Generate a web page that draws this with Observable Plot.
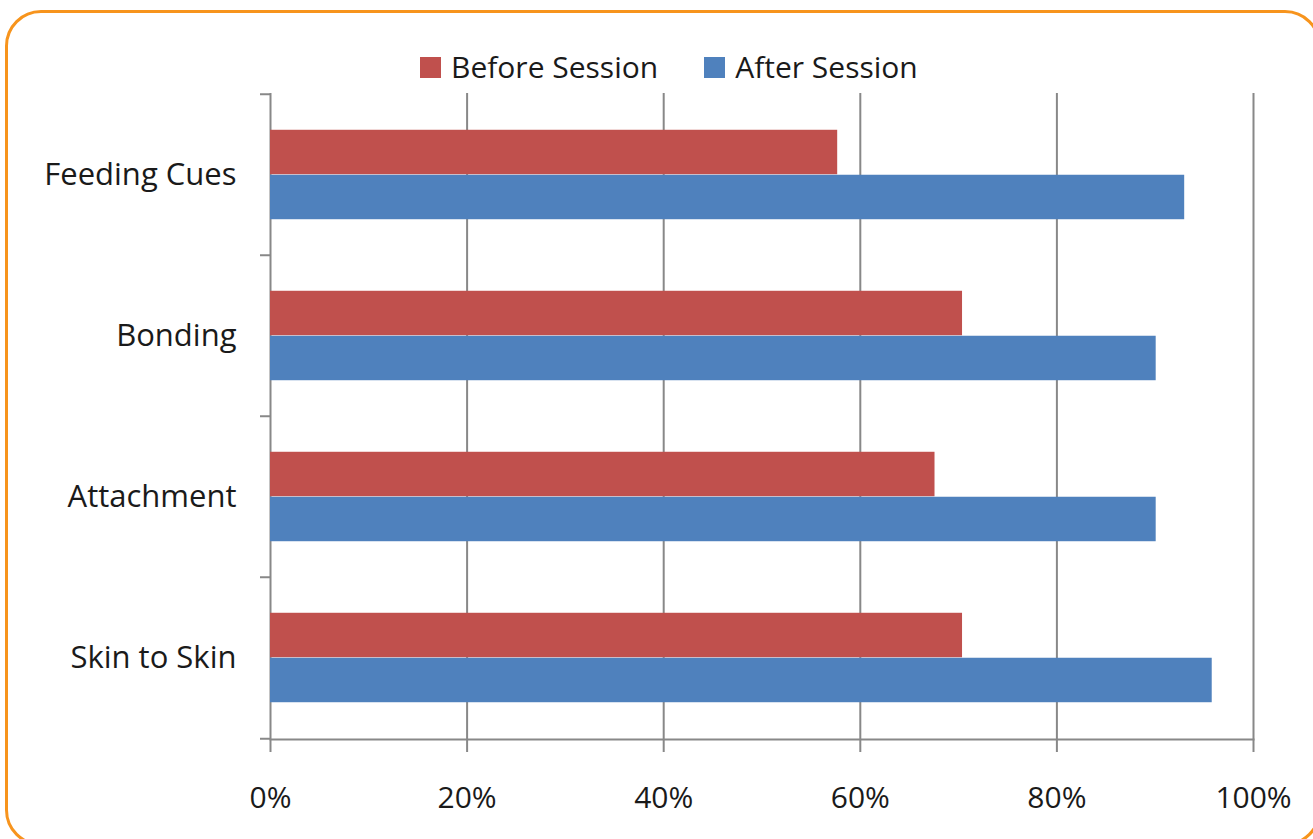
<!DOCTYPE html>
<html>
<head>
<meta charset="utf-8">
<script src="https://cdn.jsdelivr.net/npm/d3@7"></script>
<script src="https://cdn.jsdelivr.net/npm/@observablehq/plot@0.6"></script>
<style>
  html, body { margin: 0; padding: 0; background: #fff; }
  body { width: 1313px; height: 839px; overflow: hidden; position: relative; font-family: "Open Sans", sans-serif; }
  .panel {
    position: absolute; left: 5px; top: 10px; width: 1316px; height: 836px;
    box-sizing: border-box; border: 3px solid #F7941D; border-radius: 36px;
  }
  .legend {
    position: relative; height: 90px; box-sizing: border-box; padding-top: 44px; padding-left: 420px;
    display: flex; align-items: center; font-size: 30px; color: #1a1a1a; line-height: 1;
  }
  .legend .item { display: flex; align-items: center; margin-right: 46px; }
  .legend .swatch { width: 21px; height: 21px; margin-right: 10px; }
  #chart { position: relative; }
</style>
</head>
<body>
<div class="panel"></div>
<div class="legend" id="legend"></div>
<div id="chart"></div>
<script>
// Categories and series values (percent of participants)
const categories = ["Feeding Cues", "Bonding", "Attachment", "Skin to Skin"];
const seriesNames = ["Before Session", "After Session"];
const beforeSession = [57.7, 70.4, 67.6, 70.4];
const afterSession = [93.0, 90.1, 90.1, 95.8];
const xTicks = [0, 20, 40, 60, 80, 100];
const seriesColors = ["#C0504D", "#4F81BD"];

const rows = categories.flatMap((c, i) => [
  {category: c, series: seriesNames[0], value: beforeSession[i]},
  {category: c, series: seriesNames[1], value: afterSession[i]}
]);

const width = 1313, height = 749;
const marginTop = 3, marginBottom = 100, marginLeft = 270, marginRight = 60;
const step = (height - marginTop - marginBottom) / categories.length;
const outer = step * 0.2215;          // empty space above and below each pair
const half = (step - 2 * outer) / 2;  // thickness of one bar
const gridColor = "#888";

// Legend
const legend = document.getElementById("legend");
seriesNames.forEach((name, i) => {
  const item = document.createElement("div");
  item.className = "item";
  const sw = document.createElement("span");
  sw.className = "swatch";
  sw.style.background = seriesColors[i];
  const label = document.createElement("span");
  label.textContent = name;
  item.append(sw, label);
  legend.append(item);
});

const chart = Plot.plot({
  width, height, marginTop, marginBottom, marginLeft, marginRight,
  style: {fontFamily: "Open Sans, sans-serif", fontSize: "30px", color: "#1a1a1a", background: "transparent"},
  x: {domain: [0, 100]},
  y: {domain: categories, padding: 0, axis: null},
  color: {domain: seriesNames, range: seriesColors},
  marks: [
    // vertical gridlines and the value axis line
    Plot.ruleX(xTicks, {stroke: gridColor, strokeWidth: 2}),
    Plot.frame({anchor: "bottom", stroke: gridColor, strokeWidth: 2}),
    // bars: before session in the upper half of each band, after session in the lower half
    Plot.barX(rows.filter(d => d.series === seriesNames[0]), {
      x: "value", y: "category", fill: "series",
      insetTop: outer, insetBottom: outer + half
    }),
    Plot.barX(rows.filter(d => d.series === seriesNames[1]), {
      x: "value", y: "category", fill: "series",
      insetTop: outer + half, insetBottom: outer
    }),
    // category labels
    Plot.axisY({tickSize: 0, tickPadding: 34, label: null, fontSize: 31}),
    // tick marks on the category boundaries
    Plot.axisY({tickSize: 10, tickFormat: () => "", label: null, dy: -step / 2, stroke: gridColor, strokeWidth: 2}),
    Plot.axisY({ticks: [categories[categories.length - 1]], tickSize: 10, tickFormat: () => "", label: null, dy: step / 2, stroke: gridColor, strokeWidth: 2}),
    // value axis
    Plot.axisX({ticks: xTicks, tickSize: 13, tickPadding: 34, tickFormat: d => d + "%", label: null, stroke: gridColor, strokeWidth: 2, fontSize: 30})
  ]
});
document.getElementById("chart").append(chart);
</script>
</body>
</html>
